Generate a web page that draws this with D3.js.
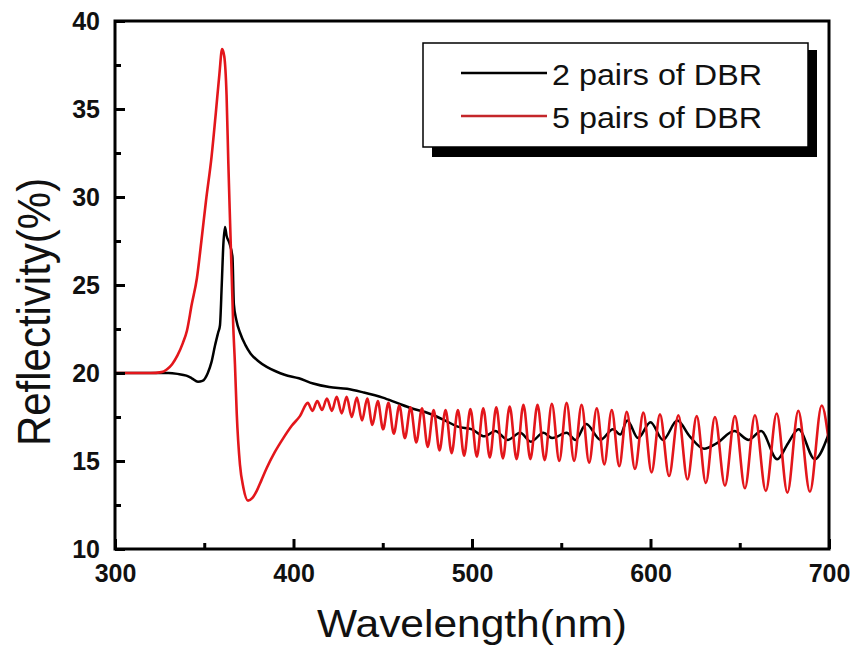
<!DOCTYPE html>
<html><head><meta charset="utf-8">
<script src="https://cdn.jsdelivr.net/npm/d3@7"></script>
<style>body{margin:0;background:#fff} text{font-family:"Liberation Sans",Arial,sans-serif}</style>
</head><body><svg id="c" width="854" height="652"></svg>
<script>
// ---- data ----
const xTicks = [300, 400, 500, 600, 700];
const xMinor = [350, 450, 550, 650];
const yTicks = [10, 15, 20, 25, 30, 35, 40];
const yMinor = [12.5, 17.5, 22.5, 27.5, 32.5, 37.5];
const seriesNames = ["2 pairs of DBR", "5 pairs of DBR"];
const seriesColors = ["#000000", "#e3161b"];

const blackWl = [300,320,330,335,340,343,346.5,349,352,354,356,357.8,358.8,359.8,360.7,361.6,362.5,364,365.8,366.6,368,370,373,376,380,385,390,395,403,411,420,430,439,450,458,466,476,485,492,500,507,513,520,527,533,540,545,553,558,564,572,579,583,587,593,600,607,615,622,630,637,647,655,662,671,677,683,692,700];
const blackR  = [20.0,20.0,20.0,19.95,19.85,19.7,19.5,19.55,20.0,20.6,21.55,22.3,22.7,25.0,27.3,28.3,27.8,27.4,26.6,23.9,23.0,22.3,21.6,21.1,20.7,20.35,20.1,19.9,19.7,19.4,19.2,19.1,18.9,18.6,18.3,18.0,17.7,17.3,16.95,16.8,16.4,16.7,16.2,16.6,16.1,16.6,16.3,16.6,16.2,17.1,16.2,16.8,16.5,17.3,16.3,17.2,16.2,17.3,16.4,15.7,16.0,16.7,16.2,16.7,15.1,16.0,16.8,15.1,16.6];

const redWl = [300,310,320,326,329,332,335,338,340.3,343,345.9,348.4,351,354.1,356.5,358.5,360,361.2,362.5,363.5,364.4,365.4,366.2,367.2,368.2,370,371.9,374.5,377,379.4,382,385,389.5,394.3,399,403.6,
  408.0,410.6,413.3,416.0,418.7,421.5,424.2,427.0,429.8,432.6,435.5,438.4,441.3,444.2,447.2,450.2,453.2,456.2,459.3,462.4,465.6,468.8,472.0,475.2,478.5,481.8,485.2,488.6,492.1,495.6,499.1,502.7,506.3,510.0,513.6,517.3,521.1,525.0,528.8,532.7,536.7,540.7,544.75,548.9,553,557.2,561.4,565.6,569.9,574.1,578.3,582.5,586.7,591.3,596,600.6,605.3,610.4,615.6,620.7,625.9,631.0,636.1,641.7,647.3,652.9,658.5,664.6,670.7,676.7,682.8,689.3,695.9,700];
const redR = [20.0,20.0,20.0,20.05,20.2,20.5,21.0,21.7,22.4,23.9,25.4,27.5,29.8,32.3,34.8,37.0,38.4,38.0,35.8,31.9,28.8,25.5,22.8,20.5,17.7,14.8,13.5,12.75,12.9,13.3,13.9,14.6,15.5,16.3,17.0,17.55,
  18.3,17.85,18.4,17.9,18.55,17.85,18.65,17.7,18.65,17.5,18.6,17.3,18.55,17.05,18.4,16.8,18.3,16.55,18.15,16.3,18.05,16.05,18.0,15.8,17.9,15.6,17.9,15.45,17.9,15.3,17.95,15.25,18.0,15.2,18.05,15.15,18.1,15.1,18.2,15.1,18.2,15.05,18.25,15.0,18.3,15.0,18.2,14.9,18.0,14.8,17.9,14.7,17.8,14.55,17.75,14.35,17.65,14.15,17.6,13.95,17.55,13.75,17.5,13.6,17.55,13.45,17.6,13.3,17.7,13.2,17.85,13.25,18.15,16.0];

// ---- chart ----
const svg = d3.select("#c");
const x = d3.scaleLinear().domain([300, 700]).range([115, 829]);
const y = d3.scaleLinear().domain([10, 40]).range([549, 21]);

svg.append("defs").append("clipPath").attr("id", "clip")
  .append("rect").attr("x", 115).attr("y", 21).attr("width", 714).attr("height", 528);

const line = d3.line().x(d => x(d[0])).y(d => y(d[1])).curve(d3.curveMonotoneX);
const blackData = blackWl.map((w, i) => [w, blackR[i]]);
const redData = redWl.map((w, i) => [w, redR[i]]);

const g = svg.append("g").attr("clip-path", "url(#clip)");
g.append("path").datum(blackData).attr("d", line).attr("fill", "none")
  .attr("stroke", seriesColors[0]).attr("stroke-width", 2.5).attr("stroke-linejoin", "round");
g.append("path").datum(redData).attr("d", line).attr("fill", "none")
  .attr("stroke", seriesColors[1]).attr("stroke-width", 2.6).attr("stroke-linejoin", "round");

// axes
const xAx = svg.append("g").attr("transform", "translate(0,549)")
  .call(d3.axisBottom(x).tickValues(xTicks).tickSizeInner(-10).tickSizeOuter(0).tickPadding(15));
const xAxm = svg.append("g").attr("transform", "translate(0,549)")
  .call(d3.axisBottom(x).tickValues(xMinor).tickSizeInner(-6).tickSizeOuter(0).tickFormat(""));
const yAx = svg.append("g").attr("transform", "translate(115,0)")
  .call(d3.axisLeft(y).tickValues(yTicks).tickSizeInner(-10).tickSizeOuter(0).tickPadding(15));
const yAxm = svg.append("g").attr("transform", "translate(115,0)")
  .call(d3.axisLeft(y).tickValues(yMinor).tickSizeInner(-6).tickSizeOuter(0).tickFormat(""));
[xAx, xAxm, yAx, yAxm].forEach(a => {
  a.select(".domain").remove();
  a.selectAll("line").attr("stroke", "#000").attr("stroke-width", 3);
  a.selectAll("text").attr("font-size", 25).attr("font-weight", "bold").attr("fill", "#111")
    .attr("font-family", "Liberation Sans, Arial, sans-serif");
});

// frame
svg.append("rect").attr("x", 115).attr("y", 21).attr("width", 714).attr("height", 528)
  .attr("fill", "none").attr("stroke", "#000").attr("stroke-width", 3);

// legend
svg.append("rect").attr("x", 432).attr("y", 50).attr("width", 385).attr("height", 107).attr("fill", "#000");
svg.append("rect").attr("x", 423).attr("y", 43).attr("width", 385).attr("height", 104)
  .attr("fill", "#fff").attr("stroke", "#000").attr("stroke-width", 1.5);
seriesNames.forEach((name, i) => {
  const ly = 73 + i * 43;
  svg.append("line").attr("x1", 461).attr("x2", 547).attr("y1", ly).attr("y2", ly)
    .attr("stroke", i === 0 ? "#000" : "#c4262a").attr("stroke-width", 2.5);
  svg.append("text").attr("x", 552).attr("y", ly + 12).attr("font-size", 30)
    .attr("textLength", 210).attr("lengthAdjust", "spacingAndGlyphs").attr("fill", "#111").text(name);
});

// axis titles
svg.append("text").attr("x", 317).attr("y", 637).attr("font-size", 38)
  .attr("textLength", 310).attr("lengthAdjust", "spacingAndGlyphs").attr("fill", "#111").text("Wavelength(nm)");
svg.append("text").attr("transform", "translate(50,312) scale(1.1,1) rotate(-90)")
  .attr("text-anchor", "middle").attr("font-size", 42).attr("fill", "#111").text("Reflectivity(%)");
</script></body></html>
